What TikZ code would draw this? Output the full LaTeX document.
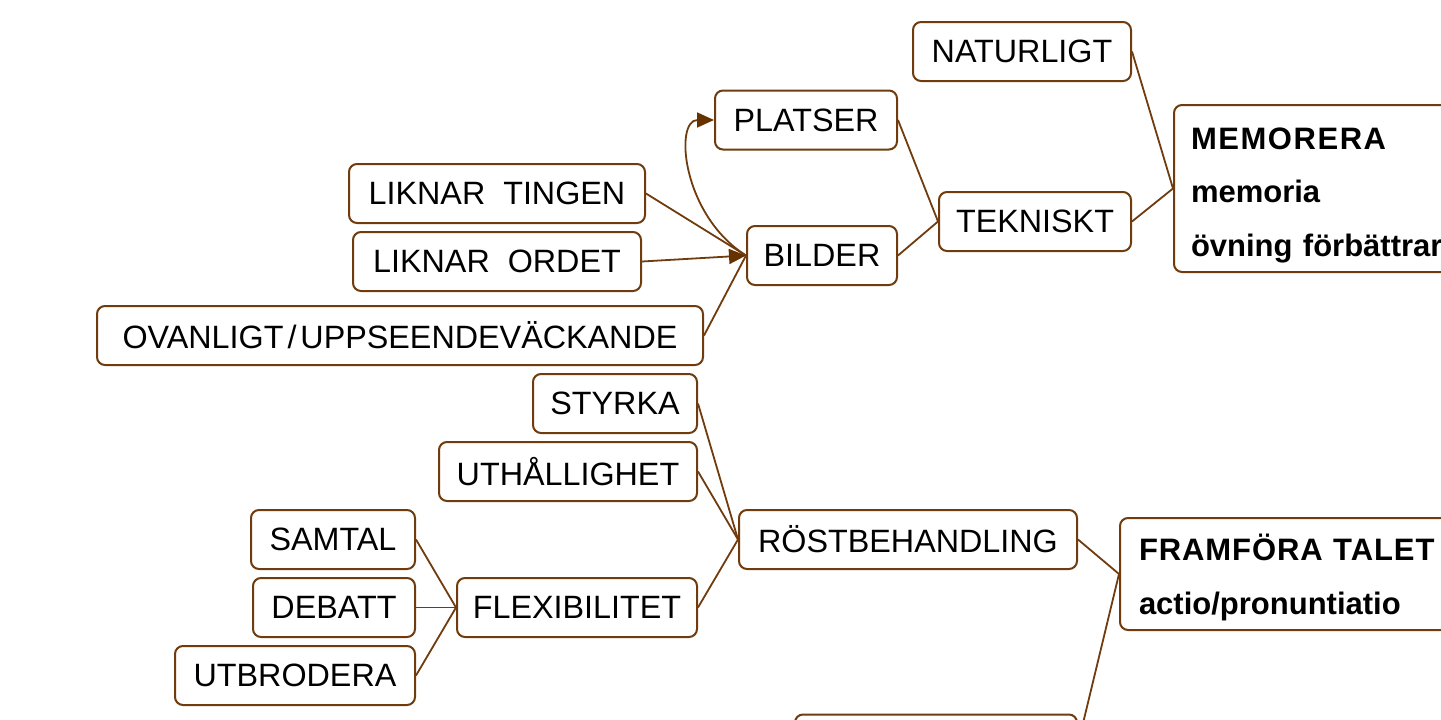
\documentclass[tikz,border=0pt]{standalone}
\usepackage{fontspec}
\setmainfont{Liberation Sans}
\usetikzlibrary{arrows.meta}
\definecolor{brn}{RGB}{112,60,14}
\definecolor{brnd}{RGB}{102,51,0}
\begin{document}
\begin{tikzpicture}[x=1pt,y=-1pt,
  box/.style={draw=brn, line width=2pt, rounded corners=8pt, fill=white,
    minimum height=59pt, inner sep=0pt, font=\fontsize{32.3}{38}\selectfont},
  bigbox/.style={draw=brn, line width=2pt, rounded corners=8pt, fill=white,
    inner xsep=17pt, inner ysep=0pt, align=left, anchor=north west},
  conn/.style={draw=brn, line width=1.8pt},
  arr/.style={conn, -{Triangle[length=17pt,width=15pt,fill=brnd,color=brnd]}}]
\useasboundingbox (0,0) rectangle (1441,720);
\clip (0,0) rectangle (1441,720);
% nodes
\node[box, minimum width=218pt] (nat) at (1022,51.5) {NATURLIGT};
\node[box, minimum width=182pt] (pla) at (806,120) {PLATSER};
\node[box, minimum width=296pt] (tin) at (497,193.5) {LIKNAR\ \ TINGEN};
\node[box, minimum width=192pt] (tek) at (1035,221.5) {TEKNISKT};
\node[box, minimum width=150pt] (bil) at (822,255.5) {BILDER};
\node[box, minimum width=288pt] (ord) at (497,261.5) {LIKNAR\ \ ORDET};
\node[box, minimum width=606pt] (ova) at (400,335.5) {OVANLIGT\kern4pt/\kern4pt UPPSEENDEVÄCKANDE};
\node[box, minimum width=164pt] (sty) at (615,403.5) {STYRKA};
\node[box, minimum width=258pt] (uth) at (568,471.5) {UTHÅLLIGHET};
\node[box, minimum width=164pt] (sam) at (333,539.5) {SAMTAL};
\node[box, minimum width=338pt] (ros) at (908,539.5) {RÖSTBEHANDLING};
\node[box, minimum width=162pt] (deb) at (334,607.5) {DEBATT};
\node[box, minimum width=240pt] (fle) at (577,607.5) {FLEXIBILITET};
\node[box, minimum width=240pt] (utb) at (295,675.5) {UTBRODERA};
\node[box, minimum width=282pt] (bot) at (936,744) {};
\node[bigbox, minimum height=167pt, text width=320pt,
  font=\fontsize{31}{53.5}\selectfont\bfseries] (mem) at (1173,104)
  {\rule{0pt}{35pt}{\addfontfeature{LetterSpace=5}MEMORERA}\\memoria\\övning\ förbättrar};
\node[bigbox, minimum height=112pt, inner xsep=19pt, text width=330pt,
  font=\fontsize{31}{54}\selectfont\bfseries] (fra) at (1119,517)
  {\rule{0pt}{34pt}{\addfontfeature{LetterSpace=3}FRAMFÖRA TALET}\\actio/pronuntiatio};
% connectors
\draw[conn] (nat.east) -- (mem.west);
\draw[conn] (tek.east) -- (mem.west);
\draw[conn] (pla.east) -- (tek.west);
\draw[conn] (bil.east) -- (tek.west);
\draw[conn] (tin.east) -- (bil.west);
\draw[arr] (ord.east) -- (bil.west);
\draw[conn] (ova.east) -- (bil.west);
\draw[arr] (bil.west) .. controls (682,215) and (674,120) .. (pla.west);
\draw[conn] (sty.east) -- (ros.west);
\draw[conn] (uth.east) -- (ros.west);
\draw[conn] (fle.east) -- (ros.west);
\draw[conn] (sam.east) -- (fle.west);
\draw[conn] (deb.east) -- (fle.west);
\draw[conn] (utb.east) -- (fle.west);
\draw[conn] (ros.east) -- (fra.west);
\draw[conn] (bot.east) -- (fra.west);
\end{tikzpicture}
\end{document}
